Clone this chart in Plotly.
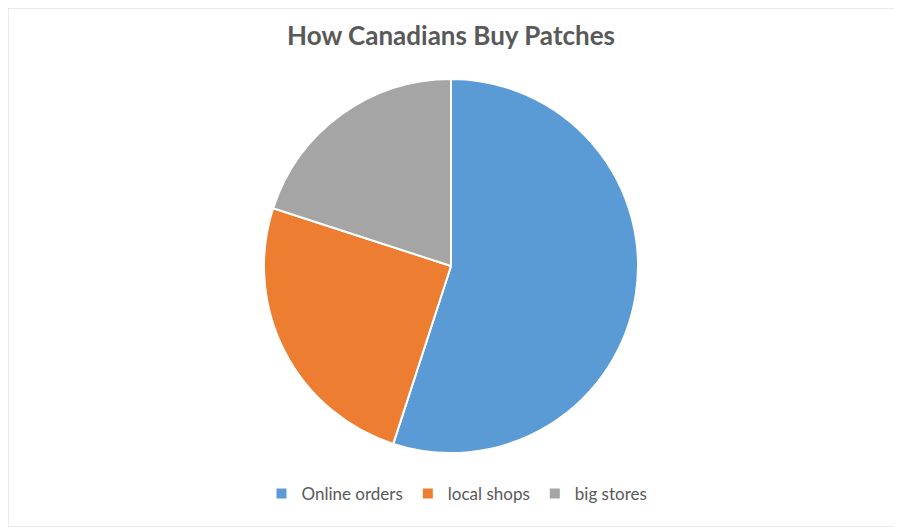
import plotly.graph_objects as go

# chart data
channels = ['Online orders', 'local shops', 'big stores']
shares = [55, 25, 20]
slice_colors = ['#5B9BD5', '#ED7D31', '#A5A5A5']

# the page puts the figure 8px in from the top-left corner,
# so the figure is made 8px smaller and positions are shifted to match
W, H = 894, 519

fig = go.Figure()
fig.add_trace(go.Pie(
    labels=channels,
    values=shares,
    sort=False,
    direction='clockwise',
    rotation=0,
    textinfo='none',
    hoverinfo='label+percent',
    marker=dict(colors=slice_colors, line=dict(color='white', width=2)),
    domain=dict(x=[256 / W, 630 / W], y=[74 / H, 448 / H]),
))

fig.update_layout(
    width=W,
    height=H,
    margin=dict(l=0, r=0, t=0, b=0),
    paper_bgcolor='white',
    plot_bgcolor='white',
    font=dict(family='Lato', color='#595959'),
    title=dict(
        text='<b>How Canadians Buy Patches</b>',
        x=443 / W, xanchor='center',
        y=1 - 28 / H, yanchor='middle',
        font=dict(family='Lato', size=26, color='#595959'),
    ),
    legend=dict(
        orientation='h',
        x=449 / W, xanchor='center',
        y=1 - 486 / H, yanchor='middle',
        font=dict(family='Lato', size=17, color='#595959'),
        itemwidth=30,
    ),
    shapes=[dict(
        type='rect', xref='paper', yref='paper',
        x0=0, x1=1, y0=0, y1=1,
        line=dict(color='#D9D9D9', width=1),
    )],
)

fig.write_html("out.html")
